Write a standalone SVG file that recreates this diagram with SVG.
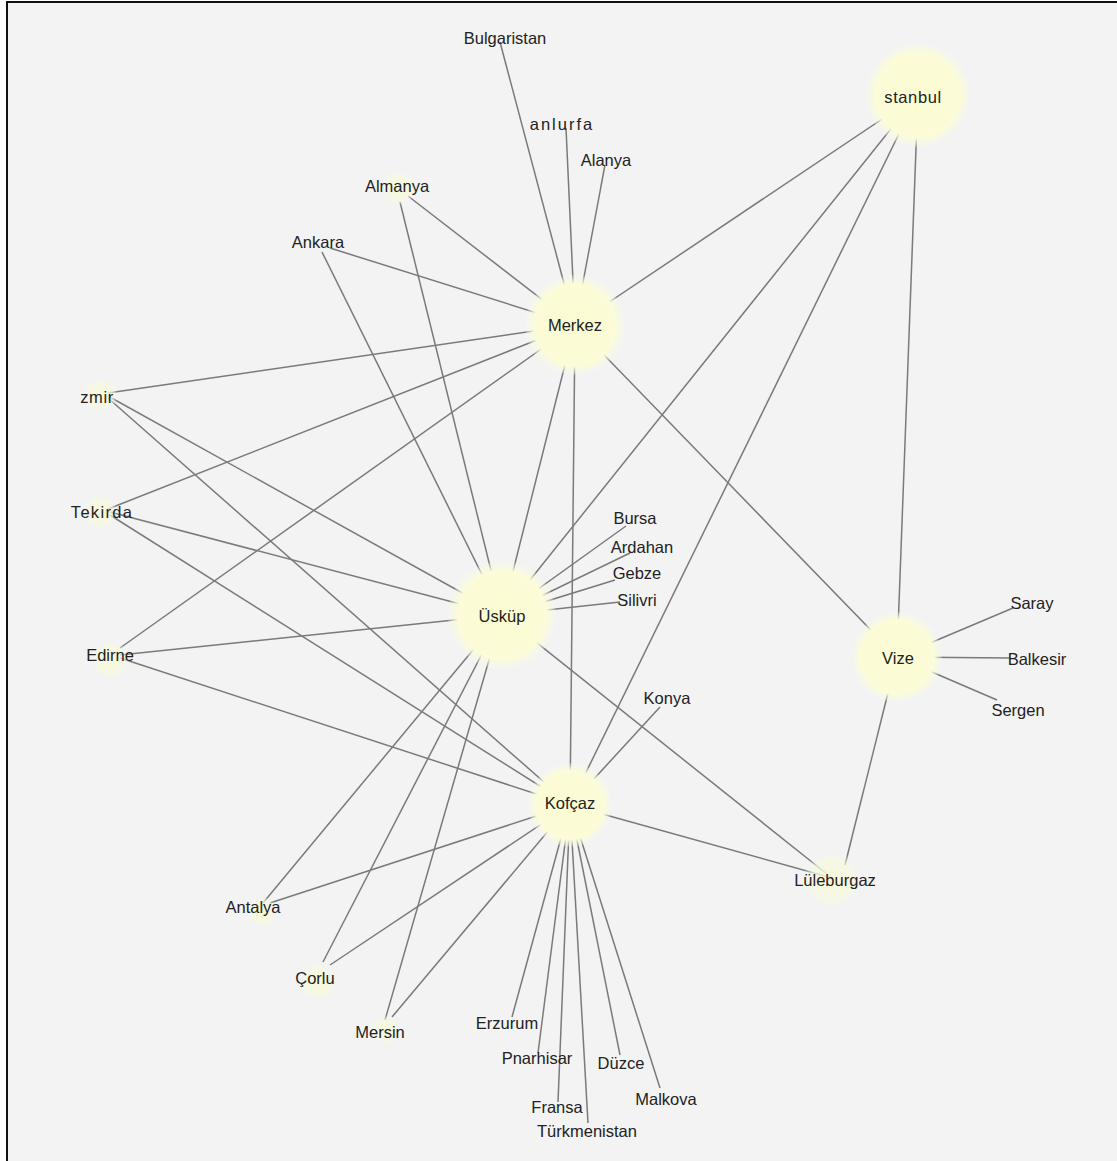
<svg xmlns="http://www.w3.org/2000/svg" width="1117" height="1161" viewBox="0 0 1117 1161">
<defs>
<radialGradient id="big">
<stop offset="0" stop-color="#fbfcd2"/>
<stop offset="0.82" stop-color="#fbfcd8"/>
<stop offset="1" stop-color="#f8f9e8" stop-opacity="0.2"/>
</radialGradient>
<radialGradient id="small">
<stop offset="0" stop-color="#f7f9d6"/>
<stop offset="0.7" stop-color="#f7f9e0" stop-opacity="0.7"/>
<stop offset="1" stop-color="#f4f4f4" stop-opacity="0"/>
</radialGradient>
<style>
.e{stroke:#7a7a7a;stroke-width:1.5;fill:none}
.t{font-family:"Liberation Sans",Arial,sans-serif;font-size:16.5px;fill:#222;text-anchor:middle;dominant-baseline:central}
.b{fill:url(#big)}
.s{fill:url(#small)}
</style>
</defs>
<rect width="1117" height="1161" fill="#ffffff"/>
<rect x="8" y="3" width="1109" height="1158" fill="#f3f3f3"/>
<line x1="6" y1="2" x2="1117" y2="2" stroke="#111" stroke-width="2"/>
<line x1="7" y1="2" x2="7" y2="1161" stroke="#111" stroke-width="2"/>
<g id="connectors">
<line class="e" x1="575" y1="325" x2="500" y2="42"/>
<line class="e" x1="575" y1="325" x2="566" y2="128"/>
<line class="e" x1="575" y1="325" x2="605" y2="165"/>
<line class="e" x1="575" y1="325" x2="408" y2="196"/>
<line class="e" x1="575" y1="325" x2="330" y2="248"/>
<line class="e" x1="575" y1="325" x2="918" y2="95"/>
<line class="e" x1="575" y1="325" x2="108" y2="393"/>
<line class="e" x1="575" y1="325" x2="108" y2="509"/>
<line class="e" x1="575" y1="325" x2="120" y2="648"/>
<line class="e" x1="575" y1="325" x2="502" y2="615"/>
<line class="e" x1="575" y1="325" x2="570" y2="805"/>
<line class="e" x1="575" y1="325" x2="897" y2="657"/>
<line class="e" x1="918" y1="95" x2="502" y2="615"/>
<line class="e" x1="918" y1="95" x2="570" y2="805"/>
<line class="e" x1="918" y1="95" x2="897" y2="657"/>
<line class="e" x1="502" y1="615" x2="400" y2="202"/>
<line class="e" x1="502" y1="615" x2="322" y2="252"/>
<line class="e" x1="502" y1="615" x2="108" y2="396"/>
<line class="e" x1="502" y1="615" x2="110" y2="512"/>
<line class="e" x1="502" y1="615" x2="120" y2="655"/>
<line class="e" x1="502" y1="615" x2="626" y2="526"/>
<line class="e" x1="502" y1="615" x2="630" y2="553"/>
<line class="e" x1="502" y1="615" x2="615" y2="580"/>
<line class="e" x1="502" y1="615" x2="620" y2="602"/>
<line class="e" x1="502" y1="615" x2="832" y2="878"/>
<line class="e" x1="502" y1="615" x2="263" y2="903"/>
<line class="e" x1="502" y1="615" x2="323" y2="962"/>
<line class="e" x1="502" y1="615" x2="385" y2="1020"/>
<line class="e" x1="570" y1="805" x2="108" y2="398"/>
<line class="e" x1="570" y1="805" x2="110" y2="515"/>
<line class="e" x1="570" y1="805" x2="120" y2="658"/>
<line class="e" x1="570" y1="805" x2="660" y2="707"/>
<line class="e" x1="570" y1="805" x2="832" y2="878"/>
<line class="e" x1="570" y1="805" x2="270" y2="903"/>
<line class="e" x1="570" y1="805" x2="330" y2="965"/>
<line class="e" x1="570" y1="805" x2="392" y2="1017"/>
<line class="e" x1="570" y1="805" x2="512" y2="1017"/>
<line class="e" x1="570" y1="805" x2="538" y2="1053"/>
<line class="e" x1="570" y1="805" x2="558" y2="1102"/>
<line class="e" x1="570" y1="805" x2="588" y2="1123"/>
<line class="e" x1="570" y1="805" x2="620" y2="1055"/>
<line class="e" x1="570" y1="805" x2="660" y2="1088"/>
<line class="e" x1="897" y1="657" x2="1013" y2="608"/>
<line class="e" x1="897" y1="657" x2="1010" y2="658"/>
<line class="e" x1="897" y1="657" x2="997" y2="700"/>
<line class="e" x1="897" y1="657" x2="845" y2="865"/>
</g>
<g id="node-merkez"><circle class="b" cx="575" cy="325" r="50"/><text class="t" x="575" y="325">Merkez</text></g>
<g id="node-istanbul"><circle class="b" cx="918" cy="95" r="52"/><text class="t" x="913" y="97" letter-spacing="0.6">stanbul</text></g>
<g id="node-uskup"><circle class="b" cx="502" cy="615" r="54"/><text class="t" x="502" y="616">Üsküp</text></g>
<g id="node-vize"><circle class="b" cx="897" cy="657" r="45"/><text class="t" x="898" y="658">Vize</text></g>
<g id="node-kofcaz"><circle class="b" cx="570" cy="805" r="42"/><text class="t" x="570" y="803">Kofçaz</text></g>
<g id="node-luleburgaz"><circle class="s" cx="832" cy="880" r="30"/><text class="t" x="835" y="880">Lüleburgaz</text></g>
<g id="node-bulgaristan"><text class="t" x="505" y="38">Bulgaristan</text></g>
<g id="node-sanliurfa"><text class="t" x="562" y="124" letter-spacing="2">anlurfa</text></g>
<g id="node-alanya"><text class="t" x="606" y="160">Alanya</text></g>
<g id="node-almanya"><circle class="s" cx="398" cy="188" r="18"/><text class="t" x="397" y="186">Almanya</text></g>
<g id="node-ankara"><text class="t" x="318" y="242">Ankara</text></g>
<g id="node-izmir"><circle class="s" cx="100" cy="395" r="18"/><text class="t" x="97" y="397" letter-spacing="0.6">zmir</text></g>
<g id="node-tekirdag"><circle class="s" cx="100" cy="512" r="18"/><text class="t" x="102" y="512" letter-spacing="1.3">Tekirda</text></g>
<g id="node-edirne"><circle class="s" cx="110" cy="660" r="20"/><text class="t" x="110" y="655">Edirne</text></g>
<g id="node-bursa"><text class="t" x="635" y="518">Bursa</text></g>
<g id="node-ardahan"><text class="t" x="642" y="547">Ardahan</text></g>
<g id="node-gebze"><text class="t" x="637" y="573">Gebze</text></g>
<g id="node-silivri"><text class="t" x="637" y="600">Silivri</text></g>
<g id="node-konya"><text class="t" x="667" y="698">Konya</text></g>
<g id="node-saray"><text class="t" x="1032" y="603">Saray</text></g>
<g id="node-balikesir"><text class="t" x="1037" y="659">Balkesir</text></g>
<g id="node-sergen"><text class="t" x="1018" y="710">Sergen</text></g>
<g id="node-antalya"><circle class="s" cx="262" cy="912" r="16"/><text class="t" x="253" y="907">Antalya</text></g>
<g id="node-corlu"><circle class="s" cx="318" cy="982" r="20"/><text class="t" x="315" y="978">Çorlu</text></g>
<g id="node-mersin"><circle class="s" cx="385" cy="1030" r="15"/><text class="t" x="380" y="1032">Mersin</text></g>
<g id="node-erzurum"><text class="t" x="507" y="1023">Erzurum</text></g>
<g id="node-pinarhisar"><text class="t" x="537" y="1058">Pnarhisar</text></g>
<g id="node-duzce"><text class="t" x="621" y="1063">Düzce</text></g>
<g id="node-fransa"><text class="t" x="557" y="1107">Fransa</text></g>
<g id="node-turkmenistan"><text class="t" x="587" y="1131">Türkmenistan</text></g>
<g id="node-malkova"><text class="t" x="666" y="1099">Malkova</text></g>
</svg>
